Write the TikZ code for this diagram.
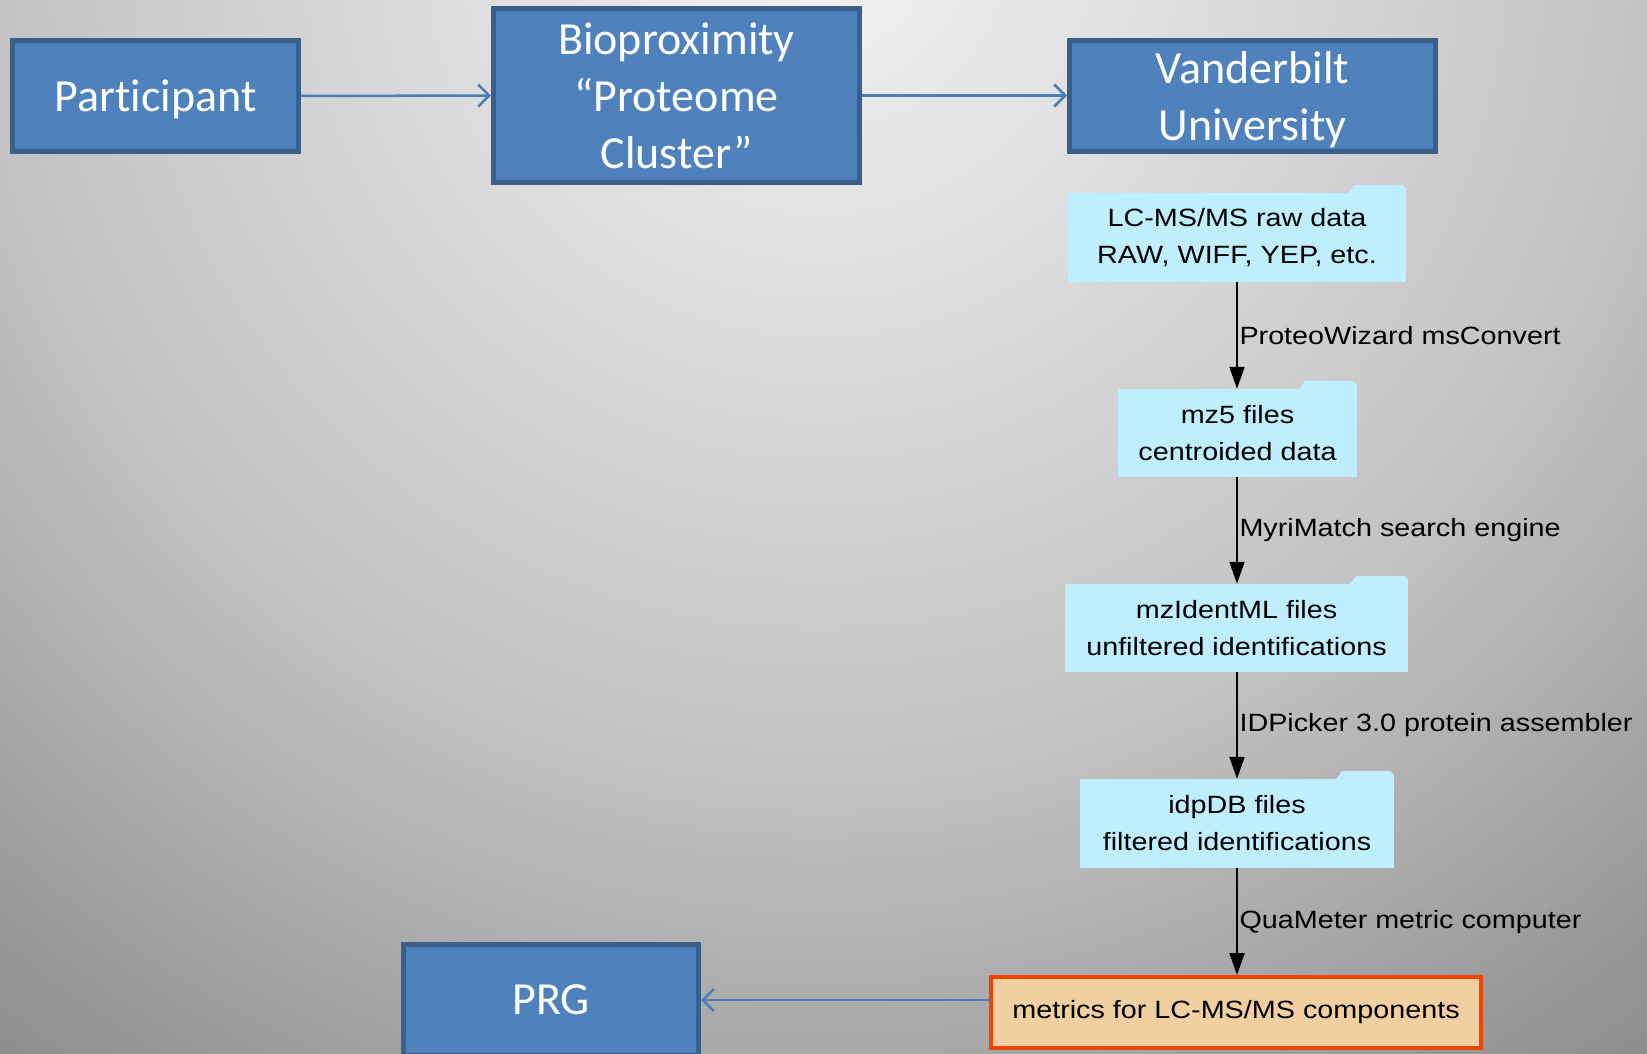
\documentclass[tikz,border=0pt]{standalone}
\usepackage{fontspec}
\usetikzlibrary{arrows.meta}
\newfontfamily\gvfont[FakeStretch=1.15]{Liberation Sans}
\newfontfamily\ppfont[Ligatures=NoCommon]{Carlito}
\definecolor{boxblue}{HTML}{4F81BD}
\definecolor{boxborder}{HTML}{3A5F8B}
\definecolor{linkblue}{HTML}{4A7EBB}
\definecolor{folderfill}{HTML}{BFEFFF}
\definecolor{wheatfill}{HTML}{F0D0A0}
\definecolor{redborder}{HTML}{F04400}
\pgfdeclareradialshading{bgshade}{\pgfpoint{0bp}{0bp}}{color(0bp)=(black!5); color(15bp)=(black!24); color(25bp)=(black!45); color(50bp)=(black!45)}
\newcommand\foldertab[1]{%
  \fill[folderfill] ([xshift=-58pt]#1.north east) -- ([xshift=-52pt,yshift=8pt]#1.north east)
    -- ([xshift=-4pt,yshift=8pt]#1.north east) -- ([yshift=4pt]#1.north east) -- (#1.north east) -- cycle;}
\tikzset{
  bluebox/.style={draw=boxborder, fill=boxblue, line width=5pt, text=white,
    font=\ppfont\fontsize{46}{57}\selectfont, align=center, inner sep=0pt},
  folderbox/.style={fill=folderfill, font=\gvfont\fontsize{25}{37}\selectfont, align=center, inner sep=0pt},
  metricbox/.style={draw=redborder, fill=wheatfill, line width=4pt, font=\gvfont\fontsize{25}{37}\selectfont, align=center, inner sep=0pt},
  gvlink/.style={-{Triangle[length=22pt,width=15pt]}, line width=2pt, black},
  bluelink/.style={-{Straight Barb[length=11pt,width=22pt]}, line width=2.5pt, linkblue},
  elabel/.style={font=\gvfont\fontsize{25}{37}\selectfont, anchor=west, inner xsep=1.5pt, inner ysep=0pt, text=black}
}
\begin{document}
\begin{tikzpicture}[x=1pt,y=-1pt]
\useasboundingbox (0,0) rectangle (1647,1054);
\begin{scope}
\clip (0,0) rectangle (1647,1054);
\shade[shading=bgshade] (820,-60) circle[radius=1400];
\end{scope}

% blue boxes
\node[bluebox, minimum width=286pt, minimum height=111pt, text depth=0pt] (part) at (155.5,96) {Participant};
\node[bluebox, minimum width=366pt, minimum height=174pt] (bio) at (676.5,95.5) {Bioproximity\\“Proteome\\Cluster”};
\node[bluebox, minimum width=366pt, minimum height=111pt, text depth=0pt] (van) at (1252.5,96) {Vanderbilt\\University};
\node[bluebox, minimum width=295pt, minimum height=111pt] (prg) at (551,1000) {PRG};

% folders
\node[folderbox, minimum width=338pt, minimum height=89pt] (lc) at (1237,237.5) {LC-MS/MS raw data\\RAW, WIFF, YEP, etc.};
\foldertab{lc}
\node[folderbox, minimum width=239pt, minimum height=88pt] (mzf) at (1237.5,433) {mz5 files\\centroided data};
\foldertab{mzf}
\node[folderbox, minimum width=343pt, minimum height=88pt] (mzid) at (1236.5,628) {mzIdentML files\\unfiltered identifications};
\foldertab{mzid}
\node[folderbox, minimum width=314pt, minimum height=89pt] (idp) at (1237,823.5) {idpDB files\\filtered identifications};
\foldertab{idp}
\node[metricbox, minimum width=490pt, minimum height=71pt] (met) at (1236,1012.5) {metrics for LC-MS/MS components};

% connectors
\draw[bluelink] (part.east) -- (bio.west);
\draw[bluelink] (bio.east) -- (bio.east -| van.west);
\draw[bluelink] (met.west |- prg.east) -- (prg.east);

\draw[gvlink] (lc.south) -- (lc.south |- mzf.north) node[midway, elabel] {ProteoWizard msConvert};
\draw[gvlink] (lc.south |- mzf.south) -- (lc.south |- mzid.north) node[midway, elabel] {MyriMatch search engine};
\draw[gvlink] (lc.south |- mzid.south) -- (lc.south |- idp.north) node[midway, elabel] {IDPicker 3.0 protein assembler};
\draw[gvlink] (lc.south |- idp.south) -- (lc.south |- met.north) node[midway, elabel] {QuaMeter metric computer};
\end{tikzpicture}
\end{document}
